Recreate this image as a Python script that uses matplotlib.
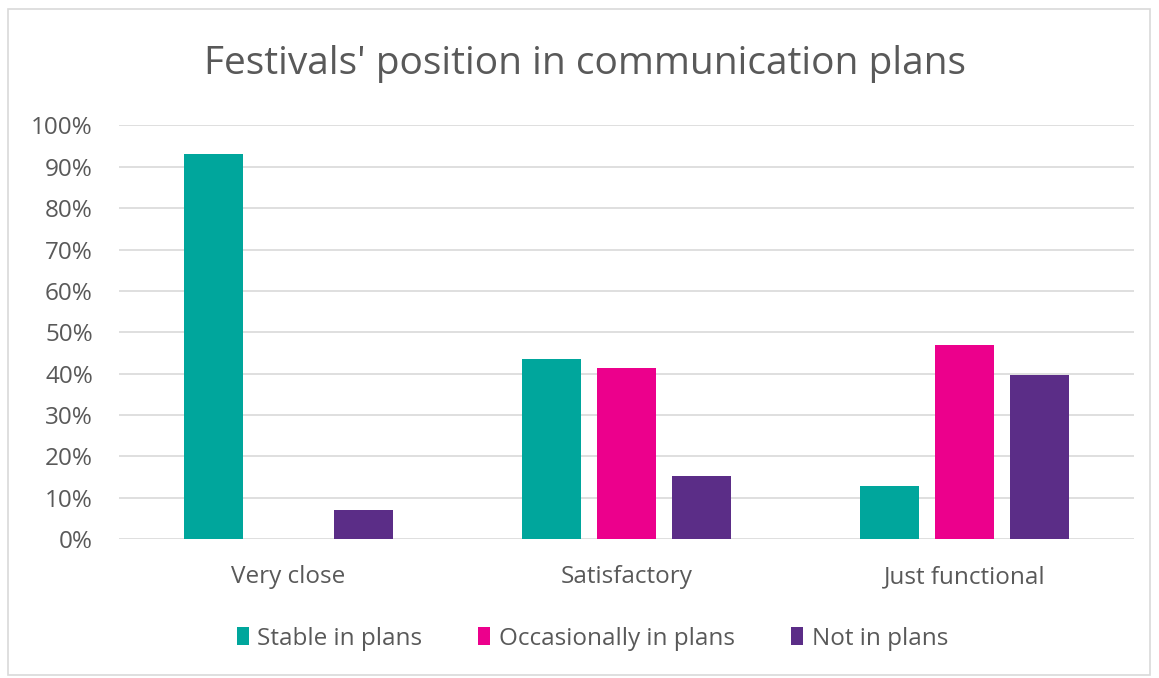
import numpy as np
import matplotlib.pyplot as plt
from matplotlib.patches import Rectangle
from matplotlib.ticker import PercentFormatter

plt.rcParams['font.family'] = ['Open Sans', 'DejaVu Sans']

categories = ['Very close', 'Satisfactory', 'Just functional']
series = ['Stable in plans', 'Occasionally in plans', 'Not in plans']
stable = [93.0, 43.5, 12.8]
occasionally = [0.0, 41.3, 46.9]
not_in = [7.0, 15.2, 39.6]
colors = ['#00A69C', '#EC008C', '#5B2D87']

fig = plt.figure(figsize=(11.59, 6.78), dpi=100)
fig.patches.append(Rectangle((0.007, 0.005), 0.985, 0.982, transform=fig.transFigure,
                             fill=False, edgecolor='#d9d9d9', linewidth=1.2))
ax = fig.add_axes([0.103, 0.205, 0.875, 0.61])

x = np.arange(len(categories))
w = 0.175
step = 0.222
for i, (vals, c, name) in enumerate(zip([stable, occasionally, not_in], colors, series)):
    ax.bar(x + (i - 1) * step, vals, width=w, color=c, label=name, zorder=3)

ax.set_ylim(0, 100)
ax.set_xlim(-0.5, 2.5)
ax.set_yticks(np.arange(0, 101, 10))
ax.yaxis.set_major_formatter(PercentFormatter(decimals=0))
ax.grid(axis='y', color='#d9d9d9', linewidth=1.2, zorder=0)
ax.set_xticks(x)
ax.set_xticklabels(categories)
ax.tick_params(axis='both', length=0, labelsize=17.5, labelcolor='#595959')
ax.tick_params(axis='x', pad=19)
ax.tick_params(axis='y', pad=19)
for s in ax.spines.values():
    s.set_visible(False)

fig.text(0.505, 0.906, "Festivals' position in communication plans", ha='center', va='center',
         fontsize=28, color='#595959')

fig.legend(loc='center', bbox_to_anchor=(0.511, 0.058), ncol=3, frameon=False,
           fontsize=17.5, labelcolor='#595959', handlelength=0.5, handleheight=0.75,
           handletextpad=0.35, columnspacing=2.3)

fig.savefig('out.png', dpi=100)
